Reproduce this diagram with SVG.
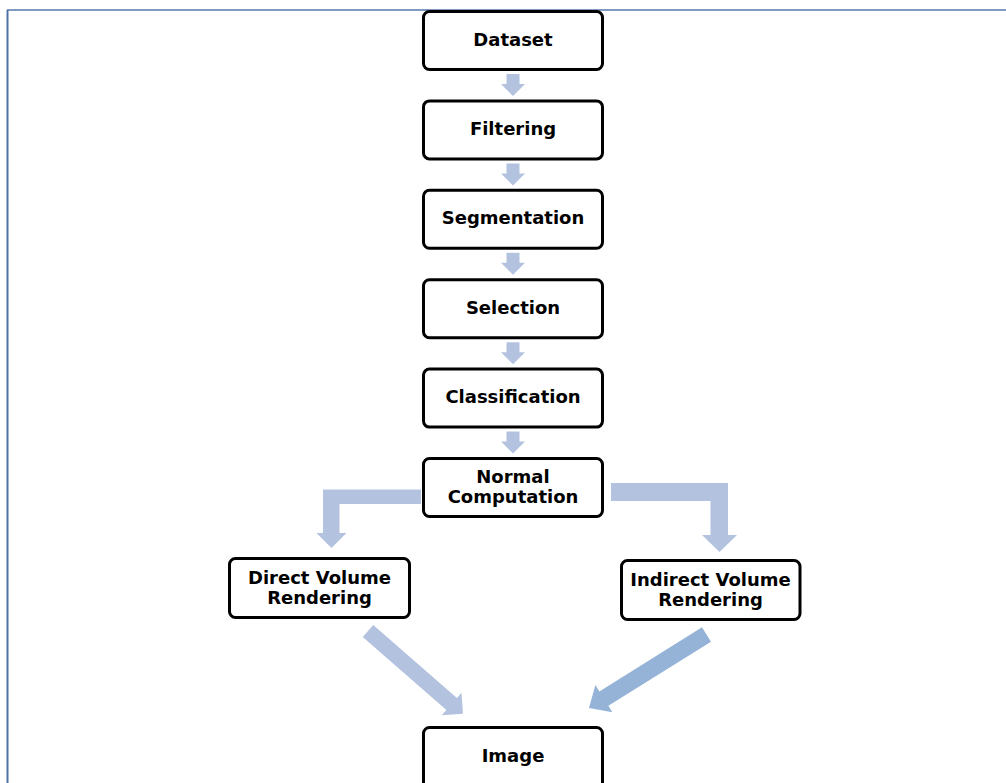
<svg xmlns="http://www.w3.org/2000/svg" xmlns:xlink="http://www.w3.org/1999/xlink" width="1006" height="783" viewBox="0 0 1006 783">
  <style>
    .box { fill: #ffffff; stroke: #000000; stroke-width: 3; }
    .lbl { font-family: "DejaVu Sans", "Liberation Sans", sans-serif; font-weight: bold; font-size: 18px; text-anchor: middle; fill: #000000; }
    .flow { fill: #b3c3df; }
    .flow-dark { fill: #95b3d7; }
  </style>
  <defs>
    <!-- short downward block arrow, origin at the top centre of its shaft -->
    <path id="down" d="M-6.5,0 L6.5,0 L6.5,10 L12,10 L0,22 L-12,10 L-6.5,10 Z"/>
  </defs>

  <rect width="1006" height="783" fill="#ffffff"/>

  <!-- page frame -->
  <g id="frame" fill="none" stroke-width="2">
    <line x1="7" y1="10" x2="1006" y2="10" stroke="#7f9abf"/>
    <line x1="7.5" y1="10" x2="7.5" y2="783" stroke="#4f73a9"/>
  </g>

  <!-- connectors -->
  <g id="connectors">
    <use xlink:href="#down" class="flow" x="513" y="74"/>
    <use xlink:href="#down" class="flow" x="513" y="163.4"/>
    <use xlink:href="#down" class="flow" x="513" y="252.8"/>
    <use xlink:href="#down" class="flow" x="513" y="342.2"/>
    <use xlink:href="#down" class="flow" x="513" y="431.6"/>
    <!-- elbow to the direct branch -->
    <polygon class="flow" points="421,489.5 323,489.5 323,533 316.5,533 331.5,548 346.5,533 339.5,533 339.5,504 421,504"/>
    <!-- elbow to the indirect branch -->
    <polygon class="flow" points="611,483 728,483 728,535 737,535 719.5,552 702,535 710.5,535 710.5,501 611,501"/>
    <!-- diagonals into the result -->
    <path class="flow" transform="translate(368,631) rotate(41.1)" d="M0,-8 L111,-8 L111,-15 L126,0 L111,15 L111,8 L0,8 Z"/>
    <path class="flow-dark" transform="translate(706.5,634.5) rotate(148)" d="M0,-8.5 L121,-8.5 L121,-16 L138.6,0 L121,16 L121,8.5 L0,8.5 Z"/>
  </g>

  <g id="dataset">
    <rect class="box" x="423.5" y="11.5" width="179" height="58" rx="6"/>
    <text class="lbl" x="513" y="45.5">Dataset</text>
  </g>
  <g id="filtering">
    <rect class="box" x="423.5" y="100.9" width="179" height="58" rx="6"/>
    <text class="lbl" x="513" y="134.9">Filtering</text>
  </g>
  <g id="segmentation">
    <rect class="box" x="423.5" y="190.3" width="179" height="58" rx="6"/>
    <text class="lbl" x="513" y="224.3">Segmentation</text>
  </g>
  <g id="selection">
    <rect class="box" x="423.5" y="279.7" width="179" height="58" rx="6"/>
    <text class="lbl" x="513" y="313.7">Selection</text>
  </g>
  <g id="classification">
    <rect class="box" x="423.5" y="369.1" width="179" height="58" rx="6"/>
    <text class="lbl" x="513" y="403.1">Classification</text>
  </g>
  <g id="normal-computation">
    <rect class="box" x="423.5" y="458.5" width="179" height="58" rx="6"/>
    <text class="lbl" x="513" y="483">Normal</text>
    <text class="lbl" x="513" y="503">Computation</text>
  </g>
  <g id="direct-volume-rendering">
    <rect class="box" x="229.5" y="558.5" width="180" height="59" rx="6"/>
    <text class="lbl" x="319.5" y="583.5">Direct Volume</text>
    <text class="lbl" x="319.5" y="603.5">Rendering</text>
  </g>
  <g id="indirect-volume-rendering">
    <rect class="box" x="621.5" y="560.5" width="178.5" height="59" rx="6"/>
    <text class="lbl" x="710.5" y="585.5">Indirect Volume</text>
    <text class="lbl" x="710.5" y="605.5">Rendering</text>
  </g>
  <g id="image">
    <rect class="box" x="423.5" y="727.5" width="179" height="70" rx="6"/>
    <text class="lbl" x="513" y="762">Image</text>
  </g>
</svg>
